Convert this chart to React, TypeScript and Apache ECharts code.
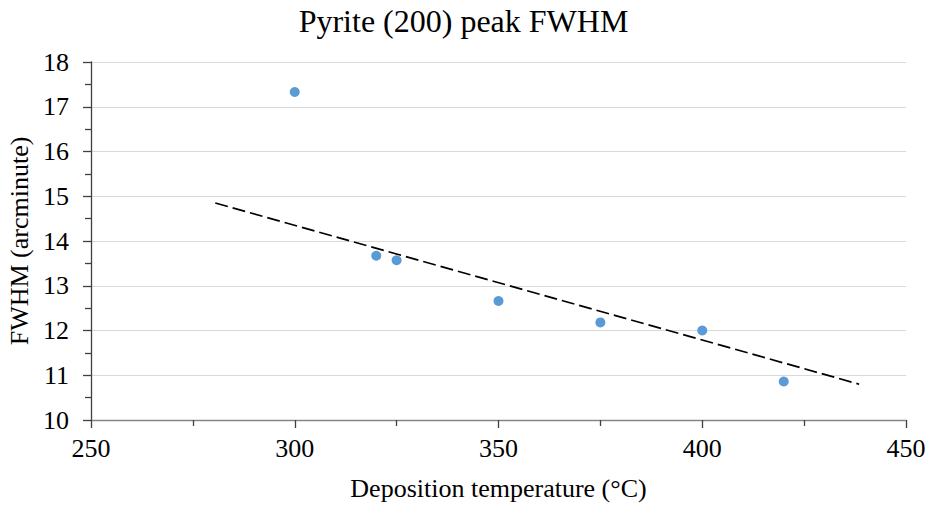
import React, { useEffect, useRef } from "react";
import * as echarts from "echarts";

const titleText = "Pyrite (200) peak FWHM";
const xAxisName = "Deposition temperature (°C)";
const yAxisName = "FWHM (arcminute)";

const temperatures = [300, 320, 325, 350, 375, 400, 420];
const fwhmValues = [17.33, 13.67, 13.57, 12.66, 12.18, 12.0, 10.86];

const trendX = [280.5, 438.5];
const trendY = [14.85, 10.8];

const FONT = "'Liberation Serif', 'Times New Roman', serif";

export default function App() {
  const ref = useRef<HTMLDivElement>(null);
  useEffect(() => {
    if (!ref.current) return;
    const chart = echarts.init(ref.current, undefined, { renderer: "svg" });
    chart.setOption({
      animation: false,
      backgroundColor: "#ffffff",
      title: {
        text: titleText,
        left: "center",
        top: 0,
        textStyle: { fontFamily: FONT, fontSize: 32, fontWeight: "normal", color: "#000" },
      },
      grid: {
        left: 91,
        right: 21,
        top: 62,
        bottom: 86,
        containLabel: false,
        outerBoundsMode: "none",
      },
      xAxis: {
        type: "value",
        min: 250,
        max: 450,
        interval: 50,
        name: xAxisName,
        nameLocation: "middle",
        nameGap: 55,
        nameTextStyle: { fontFamily: FONT, fontSize: 26, color: "#000" },
        axisLine: { show: true, onZero: false, lineStyle: { color: "#868686", width: 1.3 } },
        axisTick: { show: true, length: 8, lineStyle: { color: "#404040", width: 1.3 } },
        minorTick: { show: true, splitNumber: 2, length: 6, lineStyle: { color: "#404040", width: 1.3 } },
        splitLine: { show: false },
        axisLabel: { fontFamily: FONT, fontSize: 26, color: "#000", margin: 15 },
      },
      yAxis: {
        type: "value",
        min: 10,
        max: 18,
        interval: 1,
        name: yAxisName,
        nameLocation: "middle",
        nameGap: 57,
        nameTextStyle: { fontFamily: FONT, fontSize: 26, color: "#000" },
        axisLine: { show: true, onZero: false, lineStyle: { color: "#404040", width: 1.3 } },
        axisTick: { show: true, length: 8, lineStyle: { color: "#404040", width: 1.3 } },
        minorTick: { show: true, splitNumber: 2, length: 6, lineStyle: { color: "#404040", width: 1.3 } },
        splitLine: { show: true, lineStyle: { color: "#d9d9d9", width: 1 } },
        axisLabel: { fontFamily: FONT, fontSize: 26, color: "#000", margin: 22 },
      },
      series: [
        {
          type: "line",
          data: trendX.map((x, i) => [x, trendY[i]]),
          showSymbol: false,
          symbol: "none",
          lineStyle: { color: "#000", width: 1.7, type: [13, 5] },
          z: 2,
        },
        {
          type: "scatter",
          data: temperatures.map((t, i) => [t, fwhmValues[i]]),
          symbol: "circle",
          symbolSize: 10,
          itemStyle: { color: "#5b9bd5", opacity: 1 },
          z: 3,
        },
      ],
    });
    return () => chart.dispose();
  }, []);
  return <div ref={ref} style={{ width: 927, height: 506, position: "absolute", left: 0, top: 0 }} />;
}
